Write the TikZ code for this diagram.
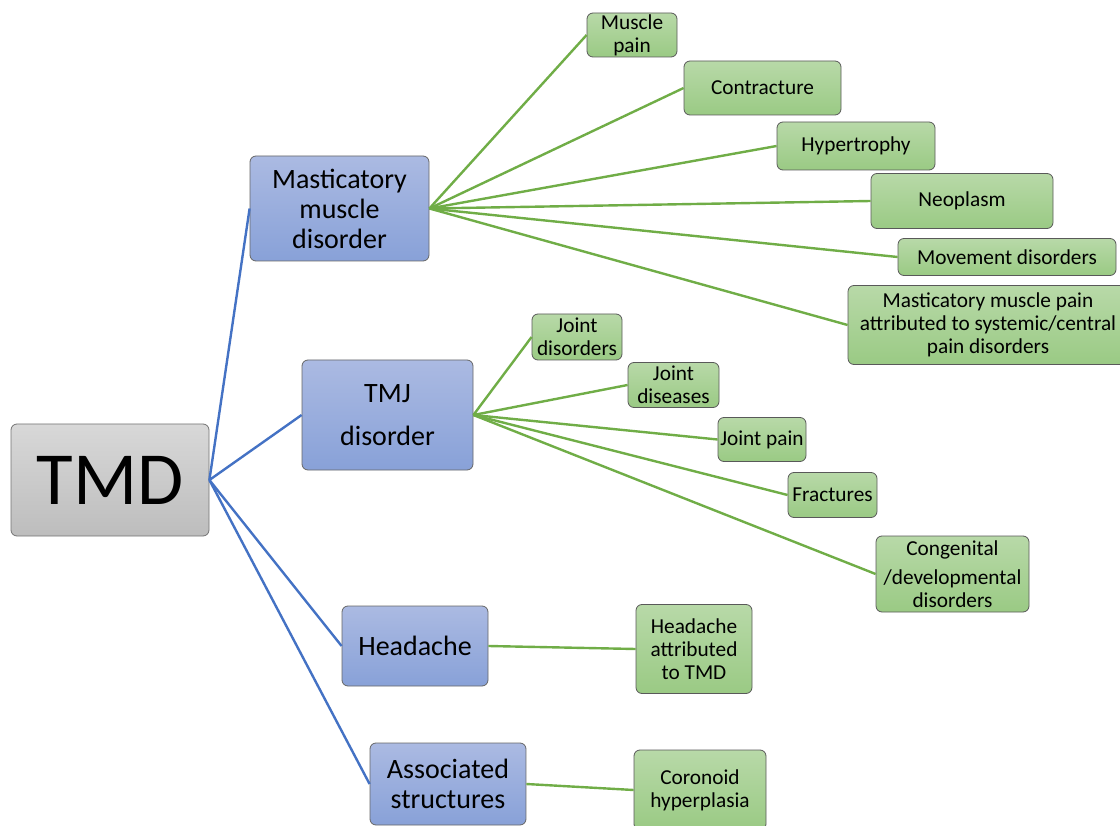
\documentclass[tikz,border=0pt]{standalone}
\usepackage{fontspec}
\setmainfont{Carlito}
\definecolor{tmdtop}{HTML}{D8D8D8}
\definecolor{tmdbot}{HTML}{BDBDBD}
\definecolor{bluetop}{HTML}{ABBAE2}
\definecolor{bluebot}{HTML}{88A1D8}
\definecolor{greentop}{HTML}{B8D9A8}
\definecolor{greenbot}{HTML}{9ACA84}
\definecolor{blueline}{HTML}{4472C4}
\definecolor{greenline}{HTML}{70AD47}
\begin{document}
\begin{tikzpicture}[x=1pt, y=-1pt,
  box/.style={rectangle, rounded corners=6pt, inner sep=0pt, align=center,
              line width=0.8pt},
  rootbox/.style={box, draw=black!55, top color=tmdtop, bottom color=tmdbot,
              font=\fontsize{75}{80}\selectfont},
  midbox/.style={box, draw=black!60, top color=bluetop, bottom color=bluebot,
              font=\fontsize{28}{30}\selectfont},
  leafbox/.style={box, draw=black!65, top color=greentop, bottom color=greenbot,
              font=\fontsize{21.3}{23}\selectfont},
  wh/.style 2 args={minimum width=#1pt, minimum height=#2pt},
  bluelink/.style={draw=blueline, line width=2.4pt},
  greenlink/.style={draw=greenline, line width=2.4pt}]
\useasboundingbox (0,0) rectangle (1120,826);
\clip (0,0) rectangle (1120,826);
%
\path (110,480)     node[rootbox, wh={198}{112}] (tmd) {TMD};
%
\path (339.5,208.5) node[midbox, wh={179}{105}] (mmd)   {Masticatory\\muscle\\disorder};
\path (387.5,415)   node[midbox, wh={171}{110}] (tmj)   {TMJ\\[13pt]disorder};
\path (415,646)     node[midbox, wh={146}{80}]  (head)  {Headache};
\path (448,784)     node[midbox, wh={156}{82}]  (assoc) {Associated\\structures};
%
\path (632,35)      node[leafbox, wh={90}{44}]  (mpain) {Muscle\\pain};
\path (762.5,88)    node[leafbox, wh={157}{54}] (contr) {Contracture};
\path (856,146)     node[leafbox, wh={158}{48}] (hyper) {Hypertrophy};
\path (962,201)     node[leafbox, wh={182}{55}] (neo)   {Neoplasm};
\path (1007,257)    node[leafbox, wh={218}{37}] (move)  {Movement disorders};
\path (988,325)     node[leafbox, wh={280}{79}] (syst)
  {Masticatory muscle pain\\attributed to systemic/central\\pain disorders};
%
\path (577,337)     node[leafbox, wh={90}{46}]  (jdis)  {Joint\\disorders};
\path (673.5,385)   node[leafbox, wh={91}{45}]  (jdiz)  {Joint\\diseases};
\path (762,439.5)   node[leafbox, wh={88}{44}]  (jpain) {Joint pain};
\path (832.5,495)   node[leafbox, wh={89}{45}]  (frac)  {Fractures};
\path (952.5,574)   node[leafbox, wh={153}{76}] (cong)
  {Congenital\\[6pt]/developmental\\disorders};
%
\path (694,649)     node[leafbox, wh={116}{89}] (htmd)  {Headache\\attributed\\to TMD};
\path (700,790)     node[leafbox, wh={132}{80}] (coro)  {Coronoid\\hyperplasia};
%
\foreach \m in {mmd, tmj, head, assoc}
  \path[bluelink] (tmd.east) -- (\m.west);
%
\foreach \l in {mpain, contr, hyper, neo, move, syst}
  \path[greenlink] (mmd.east) -- (\l.west);
\foreach \l in {jdis, jdiz, jpain, frac, cong}
  \path[greenlink] (tmj.east) -- (\l.west);
\path[greenlink] (head.east) -- (htmd.west);
\path[greenlink] (assoc.east) -- (coro.west);
\end{tikzpicture}
\end{document}
